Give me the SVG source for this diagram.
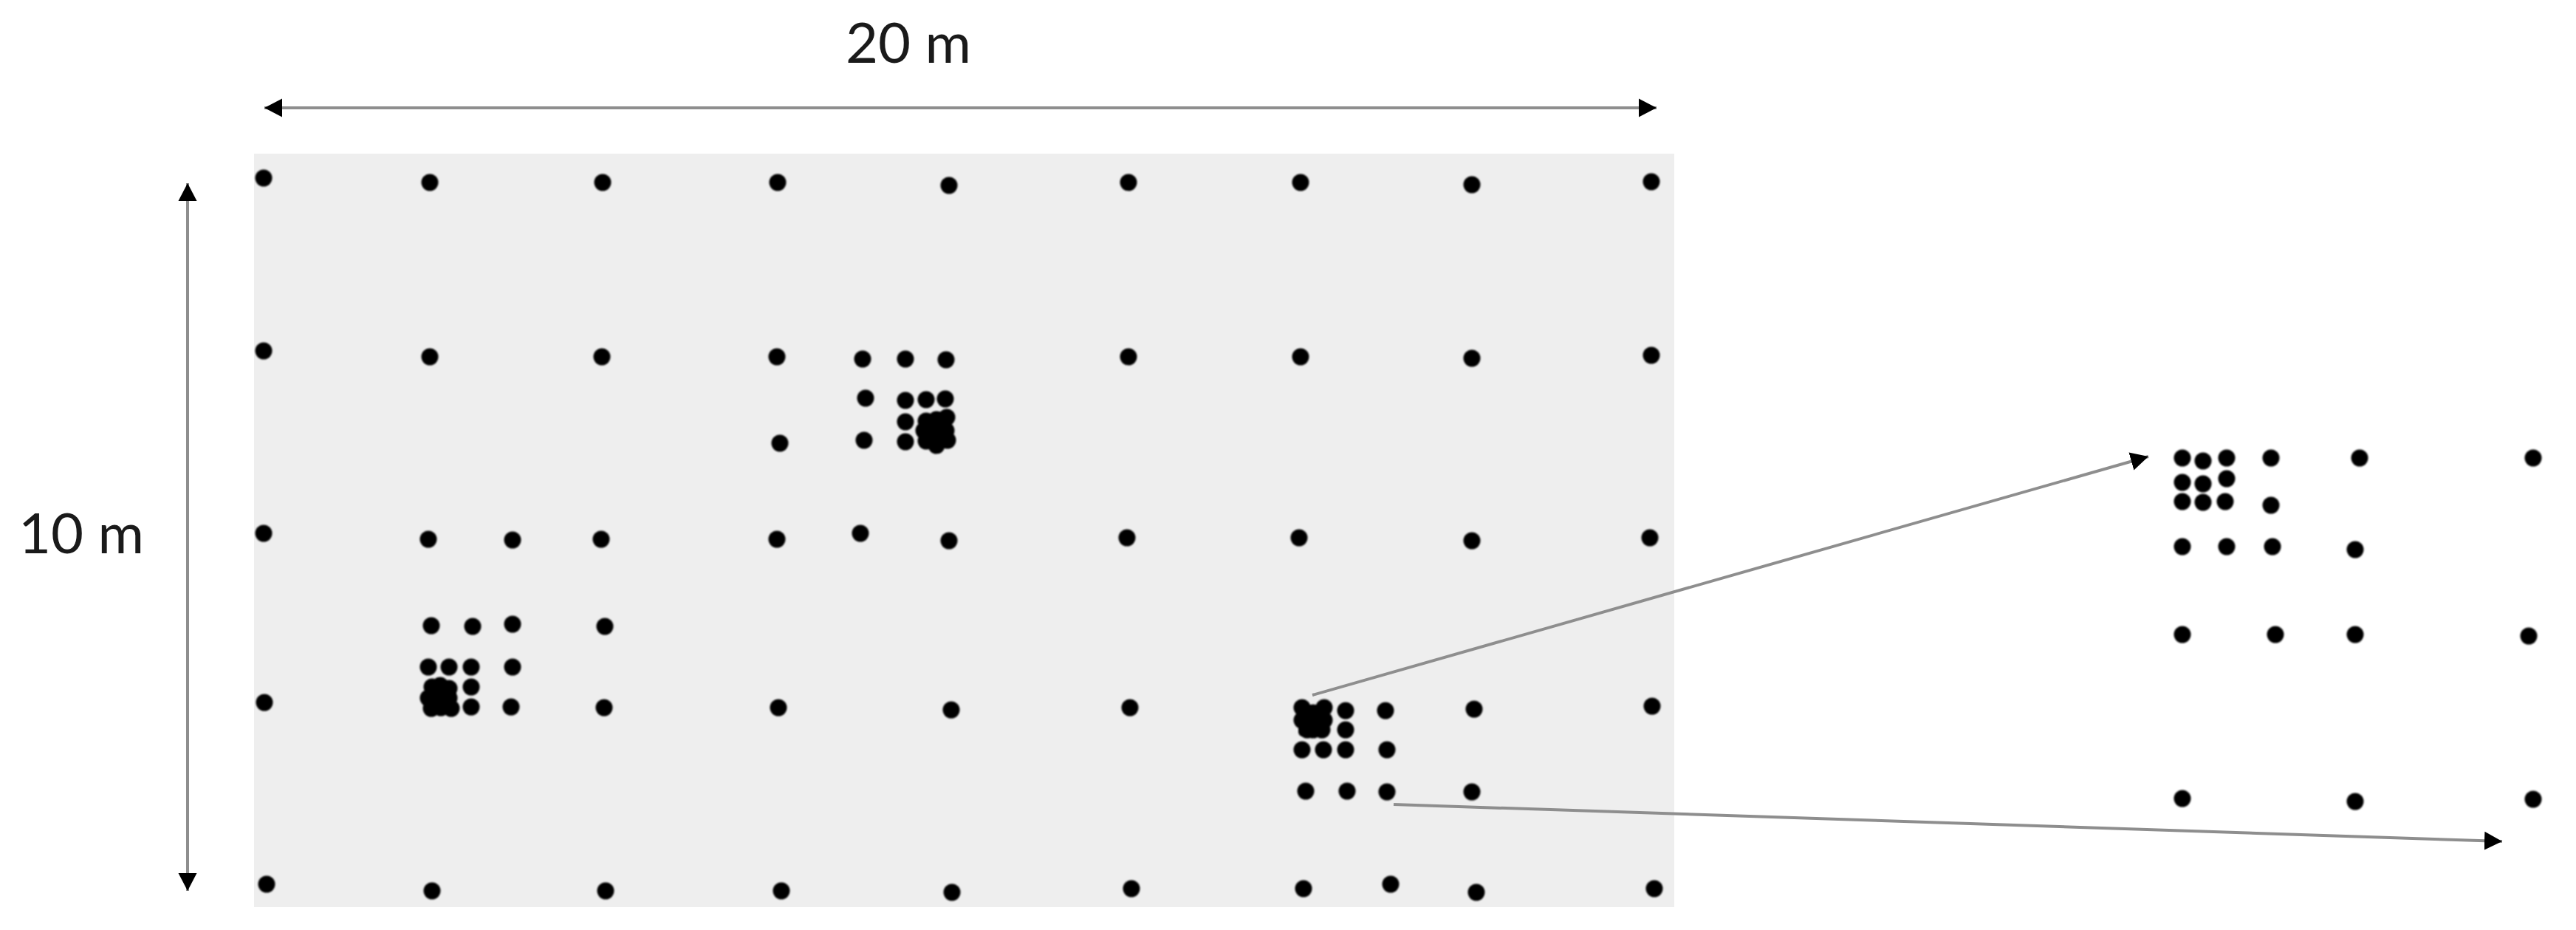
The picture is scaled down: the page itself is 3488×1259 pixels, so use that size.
<svg xmlns="http://www.w3.org/2000/svg" width="3488" height="1259" viewBox="0 0 3488 1259">
<style>
.lbl{font-family:"Lato","Liberation Sans",sans-serif;font-size:76px;fill:#1a1a1a;text-anchor:middle}
.conn{stroke:#8e8e8e;stroke-width:4;fill:none}
.dots circle{fill:#000;r:11.5px}
.dots rect{fill:#000}
.dots{filter:url(#soft)}
</style>
<defs>
<filter id="soft" x="-2%" y="-2%" width="104%" height="104%"><feGaussianBlur stdDeviation="0.9"/></filter>
<marker id="head" markerUnits="userSpaceOnUse" markerWidth="26" markerHeight="28" refX="24" refY="13" orient="auto-start-reverse"><path d="M0 0.5L24 13L0 25.5Z" fill="#000"/></marker>
</defs>
<rect id="field" x="344" y="208" width="1923" height="1020" fill="#eeeeee"/>
<g id="connectors">
<line class="conn" x1="358" y1="146" x2="2243" y2="146" marker-start="url(#head)" marker-end="url(#head)"/>
<line class="conn" x1="254" y1="248" x2="254" y2="1206" marker-start="url(#head)" marker-end="url(#head)"/>
<line class="conn" x1="1777" y1="941" x2="2909" y2="618" marker-end="url(#head)"/>
<line class="conn" x1="1887" y1="1089" x2="3388" y2="1139" marker-end="url(#head)"/>
</g>
<g id="grid-points" class="dots">
<circle cx="357" cy="241"/><circle cx="582" cy="247"/><circle cx="816" cy="247"/><circle cx="1053" cy="247"/><circle cx="1285" cy="251"/><circle cx="1528" cy="247"/><circle cx="1761" cy="247"/><circle cx="1993" cy="250"/><circle cx="2236" cy="246"/>
<circle cx="357" cy="475"/><circle cx="582" cy="483"/><circle cx="815" cy="483"/><circle cx="1052" cy="483"/><circle cx="1528" cy="483"/><circle cx="1761" cy="483"/><circle cx="1993" cy="485"/><circle cx="2236" cy="481"/>
<circle cx="1056" cy="600"/>
<circle cx="357" cy="722"/><circle cx="580" cy="730"/><circle cx="694" cy="731"/><circle cx="814" cy="730"/><circle cx="1052" cy="730"/><circle cx="1165" cy="722"/><circle cx="1285" cy="732"/><circle cx="1526" cy="728"/><circle cx="1759" cy="728"/><circle cx="1993" cy="732"/><circle cx="2234" cy="728"/>
<circle cx="819" cy="848"/>
<circle cx="358" cy="951"/><circle cx="818" cy="958"/><circle cx="1054" cy="958"/><circle cx="1288" cy="961"/><circle cx="1530" cy="958"/><circle cx="1996" cy="960"/><circle cx="2237" cy="956"/>
<circle cx="1993" cy="1072"/>
<circle cx="361" cy="1197"/><circle cx="585" cy="1206"/><circle cx="820" cy="1206"/><circle cx="1058" cy="1206"/><circle cx="1289" cy="1208"/><circle cx="1532" cy="1203"/><circle cx="1765" cy="1203"/><circle cx="1883" cy="1197"/><circle cx="1999" cy="1208"/><circle cx="2240" cy="1203"/>
</g>
<g id="cluster-left" class="dots">
<circle cx="584" cy="847"/><circle cx="640" cy="848"/><circle cx="694" cy="845"/>
<circle cx="580" cy="903"/><circle cx="608" cy="903"/><circle cx="638" cy="903"/><circle cx="694" cy="903"/>
<circle cx="638" cy="930"/><circle cx="638" cy="957"/><circle cx="692" cy="957"/>
<rect x="576" y="926" width="42" height="42" rx="6"/>
<circle cx="596" cy="928"/><circle cx="585" cy="930"/><circle cx="608" cy="932"/><circle cx="580" cy="945"/><circle cx="596" cy="945"/><circle cx="608" cy="945"/><circle cx="584" cy="959"/><circle cx="597" cy="958"/><circle cx="611" cy="959"/>
</g>
<g id="cluster-middle" class="dots">
<circle cx="1168" cy="486"/><circle cx="1226" cy="486"/><circle cx="1281" cy="487"/>
<circle cx="1172" cy="539"/><circle cx="1226" cy="542"/><circle cx="1254" cy="541"/><circle cx="1280" cy="540"/>
<circle cx="1226" cy="571"/><circle cx="1226" cy="598"/><circle cx="1170" cy="596"/>
<rect x="1247" y="564" width="42" height="42" rx="6"/>
<circle cx="1254" cy="570"/><circle cx="1268" cy="568"/><circle cx="1282" cy="565"/><circle cx="1251" cy="583"/><circle cx="1268" cy="583"/><circle cx="1281" cy="583"/><circle cx="1254" cy="597"/><circle cx="1268" cy="603"/><circle cx="1283" cy="596"/>
</g>
<g id="cluster-right" class="dots">
<circle cx="1822" cy="962"/><circle cx="1876" cy="962"/><circle cx="1822" cy="988"/>
<circle cx="1763" cy="1015"/><circle cx="1792" cy="1015"/><circle cx="1822" cy="1015"/><circle cx="1878" cy="1015"/>
<circle cx="1768" cy="1071"/><circle cx="1824" cy="1071"/><circle cx="1878" cy="1072"/>
<rect x="1758" y="954" width="42" height="43" rx="6"/>
<circle cx="1763" cy="958"/><circle cx="1778" cy="965"/><circle cx="1793" cy="958"/><circle cx="1763" cy="975"/><circle cx="1778" cy="975"/><circle cx="1793" cy="975"/><circle cx="1770" cy="988"/><circle cx="1778" cy="988"/><circle cx="1790" cy="988"/>
</g>
<g id="inset" class="dots">
<circle cx="2955" cy="620"/><circle cx="2983" cy="624"/><circle cx="3015" cy="620"/><circle cx="3075" cy="620"/><circle cx="3195" cy="620"/><circle cx="3430" cy="620"/>
<circle cx="2955" cy="653"/><circle cx="2983" cy="655"/><circle cx="3015" cy="648"/>
<circle cx="2955" cy="679"/><circle cx="2983" cy="680"/><circle cx="3013" cy="679"/><circle cx="3075" cy="684"/>
<circle cx="2955" cy="740"/><circle cx="3015" cy="740"/><circle cx="3077" cy="740"/><circle cx="3189" cy="744"/>
<circle cx="2955" cy="859"/><circle cx="3081" cy="859"/><circle cx="3189" cy="859"/><circle cx="3424" cy="861"/>
<circle cx="2955" cy="1081"/><circle cx="3189" cy="1085"/><circle cx="3430" cy="1082"/>
</g>
<g id="label-width"><text class="lbl" x="1230" y="84.5">20 m</text></g>
<g id="label-height"><text class="lbl" x="110" y="749">10 m</text></g>
</svg>
